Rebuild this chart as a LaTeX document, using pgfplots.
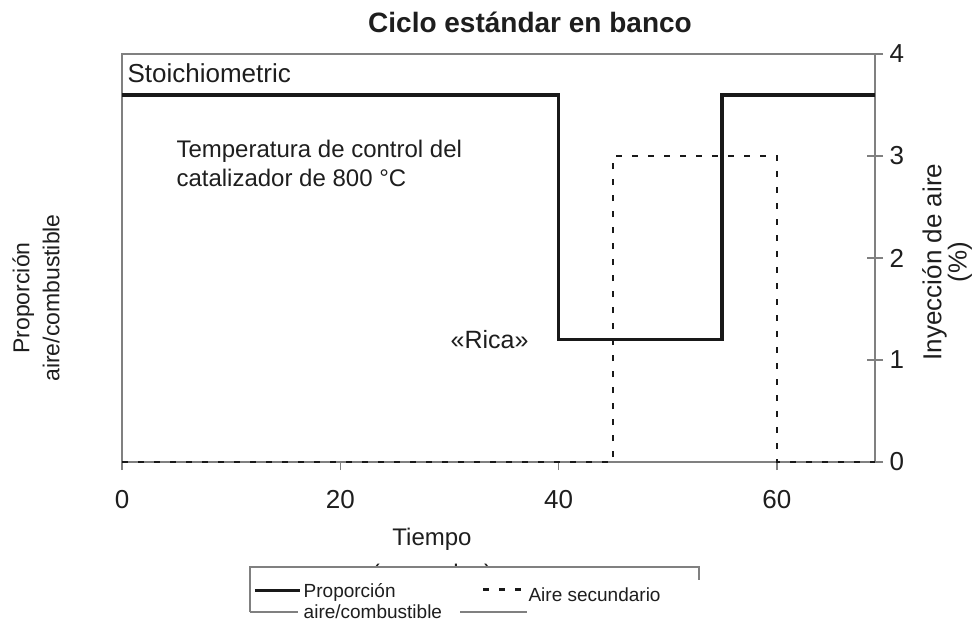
\documentclass[border=0pt]{standalone}
\usepackage{fontspec}
\setmainfont{Liberation Sans}
\usepackage{pgfplots}
\pgfplotsset{compat=1.18}
\definecolor{axgray}{RGB}{128,128,128}
\definecolor{txt}{RGB}{30,30,30}
\pgfplotsset{
  legsolid/.style={legend image code/.code={\draw[##1] (0pt,11pt) -- (45pt,11pt);}},
  legdash/.style={legend image code/.code={\path (0pt,12pt); \draw[##1] (38pt,12pt) -- (80pt,12pt);}},
}

\begin{document}
\begin{tikzpicture}[x=1pt,y=1pt]
% 1pt = 1 px of the reference, origin at the lower left plot corner
\useasboundingbox (-122,-162) rectangle (857,462);
\node[font=\fontsize{28}{32}\selectfont\bfseries, text=txt] at (408,440) {Ciclo estándar en banco};
\node[rotate=90, align=center, font=\fontsize{23}{30}\selectfont, text=txt] at (-86,164) {Proporción\\aire/combustible};
\node[rotate=90, align=center, font=\fontsize{26}{22}\selectfont, text=txt] at (825,200) {Inyección de aire\\(\%)};
\node[anchor=base, font=\fontsize{24}{28}\selectfont, text=txt] at (310,-83) {Tiempo};
\node[anchor=base, font=\fontsize{24}{28}\selectfont, text=txt] at (310,-119) {(segundos)};
\fill[white] (128,-105) rectangle (577,-162);

\begin{axis}[
  at={(0,0)}, anchor=south west,
  width=753pt, height=408pt, scale only axis,
  xmin=0, xmax=69, ymin=0, ymax=4,
  clip=false,
  axis line style={axgray, line width=1.5pt},
  xtick={0,20,40,60}, ytick={0,1,2,3,4},
  xtick pos=bottom, xtick align=outside,
  ytick pos=right, yticklabel pos=right, ytick align=center,
  major tick length=16pt,
  xtick style={/pgfplots/major tick length=8pt},
  tick style={axgray, line width=1.5pt},
  tick label style={font=\fontsize{26}{30}\selectfont, text=txt},
  /pgf/number format/assume math mode=true,
  xticklabel style={yshift=-9pt},
  yticklabel style={xshift=3pt},
  legend columns=2,
  legend style={at={(axis description cs:0.174,-0.292)}, anchor=north west,
    draw=none, fill=none, font=\fontsize{19}{21}\selectfont, text=txt,
    cells={align=left, anchor=west}, inner sep=0pt, column sep=0pt},
]
\addplot[black!90, line width=3.5pt, legsolid] coordinates {
  (0,3.6)(40,3.6)(40,1.2)(55,1.2)(55,3.6)(69,3.6)};
\addlegendentry{Proporción\\aire/combustible}
\addplot[black!90, line width=2.5pt, dash pattern=on 6pt off 10pt, legdash] coordinates {
  (0,0)(45,0)(45,3)(60,3)(60,0)(69,0)};
\addlegendentry{\raisebox{6pt}[\height][\depth]{Aire secundario}}
\end{axis}

% annotations inside the plot
\node[anchor=base west, font=\fontsize{26}{30}\selectfont, text=txt] at (2,379) {Stoichiometric};
\node[anchor=base west, align=left, font=\fontsize{24}{29}\selectfont, text=txt] at (51,275) {Temperatura de control del\\catalizador de 800 °C};
\node[anchor=base east, font=\fontsize{25}{28}\selectfont, text=txt] at (410,114) {«Rica»};

% legend frame, as broken as in the reference
\draw[axgray, line width=1.5pt] (128,-150) -- (128,-105) -- (577,-105) -- (577,-118);
\draw[axgray, line width=1.5pt] (128,-150) -- (176,-150);
\draw[axgray, line width=1.5pt] (338,-150) -- (405,-150);
\end{tikzpicture}
\end{document}
